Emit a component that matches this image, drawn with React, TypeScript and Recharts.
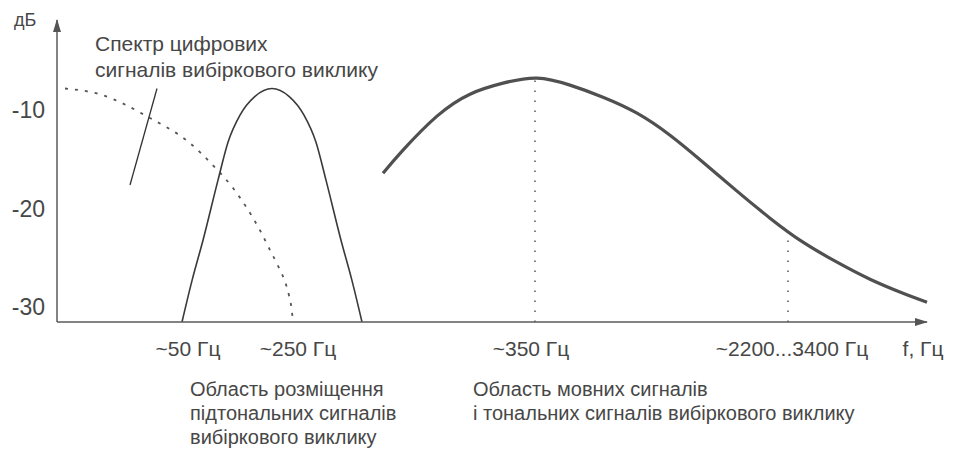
import { LineChart, Line, XAxis, YAxis } from "recharts";

// horizontal positions are schematic (0 = the dB axis), levels are in dB
const digitalX = [8, 43, 93, 133, 156, 176, 190, 203, 213, 221, 228, 232, 234.5, 236];
const digitalDb = [-7.8, -8.4, -10.8, -13.35, -15.6, -17.9, -19.95, -22.2, -24.2, -25.8, -27.4, -28.8, -30.1, -31.5];

const subtoneX = [125, 135, 146, 161, 171, 183, 198, 215, 232, 247, 259, 269, 284, 295, 305];
const subtoneDb = [-31.5, -27.3, -23.2, -17.1, -13.25, -10.5, -8.6, -7.8, -8.6, -10.5, -13.25, -17.1, -23.2, -27.3, -31.5];

const voiceX = [326, 346, 380, 413, 446, 480, 513, 546, 580, 613, 646, 680, 713, 746, 780, 813, 846, 870];
const voiceDb = [-16.4, -14.06, -10.61, -8.38, -7.26, -6.75, -7.46, -8.68, -10.3, -12.54, -15.28, -18.22, -20.96, -23.4, -25.43, -27.16, -28.58, -29.49];

const peakMarkX = [478, 478];
const peakMarkDb = [-31.5, -6.75];
const edgeMarkX = [731, 731];
const edgeMarkDb = [-31.5, -22.3];

const pointerX = [100, 73];
const pointerDb = [-7.8, -17.6];

const freqTicks = [131, 241, 474, 735, 866];
const freqLabels = ["~50 Гц", "~250 Гц", "~350 Гц", "~2200...3400 Гц", "f, Гц"];
const dbTicks = [-10, -20, -30];

const toPoints = (xs: number[], ys: number[]) => xs.map((x, i) => ({ x, y: ys[i] }));

const FONT = "'Liberation Sans', Arial, sans-serif";
const TEXT = "#474747";

function FreqTick({ x, y, payload }: any) {
  const idx = freqTicks.indexOf(payload.value);
  return (
    <text x={x} y={y + 26} textAnchor="middle" dominantBaseline="central" fill={TEXT} fontSize={21} fontFamily={FONT}>
      {freqLabels[idx]}
    </text>
  );
}

function DbTick({ x, y, payload }: any) {
  return (
    <text x={x} y={y} textAnchor="end" dominantBaseline="central" fill={TEXT} fontSize={23} fontFamily={FONT}>
      {payload.value}
    </text>
  );
}

const captions = [
  { left: 95, top: 31, lines: ["Спектр цифрових", "сигналів вибіркового виклику"], lh: 26, size: 21 },
  { left: 190, top: 377, lines: ["Область розміщення", "підтональних сигналів", "вибіркового виклику"], lh: 24, size: 20 },
  { left: 473, top: 377, lines: ["Область мовних сигналів", "і тональних сигналів вибіркового виклику"], lh: 24, size: 20 },
];

export default function App() {
  return (
    <div style={{ position: "absolute", left: 0, top: 0, width: 955, height: 449, background: "#fff", fontFamily: FONT }}>
      <LineChart width={955} height={449} margin={{ top: 20, right: 28, bottom: 97, left: 0 }}>
        <defs>
          <marker id="arrowHead" viewBox="0 0 13 8" refX="12" refY="4" markerWidth="13" markerHeight="8" markerUnits="userSpaceOnUse" orient="auto-start-reverse">
            <path d="M0,0 L13,4 L0,8 z" fill="#555" />
          </marker>
        </defs>
        <XAxis
          dataKey="x"
          type="number"
          domain={[0, 870]}
          ticks={freqTicks}
          height={30}
          tickSize={0}
          tickMargin={0}
          tickLine={false}
          tick={<FreqTick />}
          axisLine={{ stroke: "#5a5a5a", strokeWidth: 1.5, markerEnd: "url(#arrowHead)" }}
          interval={0}
        />
        <YAxis
          type="number"
          domain={[-31.5, -0.85]}
          ticks={dbTicks}
          width={57}
          tickSize={0}
          tickMargin={12}
          tickLine={false}
          tick={<DbTick />}
          axisLine={{ stroke: "#5a5a5a", strokeWidth: 1.5, markerStart: "url(#arrowHead)" }}
          interval={0}
        />
        <Line data={toPoints(digitalX, digitalDb)} dataKey="y" type="monotone" stroke="#555" strokeWidth={1.8} strokeDasharray="3 7" dot={false} activeDot={false} isAnimationActive={false} />
        <Line data={toPoints(subtoneX, subtoneDb)} dataKey="y" type="monotone" stroke="#3a3a3a" strokeWidth={1.6} dot={false} activeDot={false} isAnimationActive={false} />
        <Line data={toPoints(voiceX, voiceDb)} dataKey="y" type="natural" stroke="#505050" strokeWidth={3.2} dot={false} activeDot={false} isAnimationActive={false} />
        <Line data={toPoints(peakMarkX, peakMarkDb)} dataKey="y" type="linear" stroke="#555" strokeWidth={1.5} strokeDasharray="1.5 8.5" dot={false} activeDot={false} isAnimationActive={false} />
        <Line data={toPoints(edgeMarkX, edgeMarkDb)} dataKey="y" type="linear" stroke="#555" strokeWidth={1.5} strokeDasharray="1.5 8.5" dot={false} activeDot={false} isAnimationActive={false} />
        <Line data={toPoints(pointerX, pointerDb)} dataKey="y" type="linear" stroke="#333" strokeWidth={1.3} dot={false} activeDot={false} isAnimationActive={false} />
      </LineChart>
      <div style={{ position: "absolute", left: 14, top: 10, fontSize: 18, color: TEXT }}>дБ</div>
      {captions.map((c, i) => (
        <div key={i} style={{ position: "absolute", left: c.left, top: c.top, fontSize: c.size, lineHeight: `${c.lh}px`, color: TEXT, whiteSpace: "nowrap" }}>
          {c.lines.map((l, j) => (
            <div key={j}>{l}</div>
          ))}
        </div>
      ))}
    </div>
  );
}
